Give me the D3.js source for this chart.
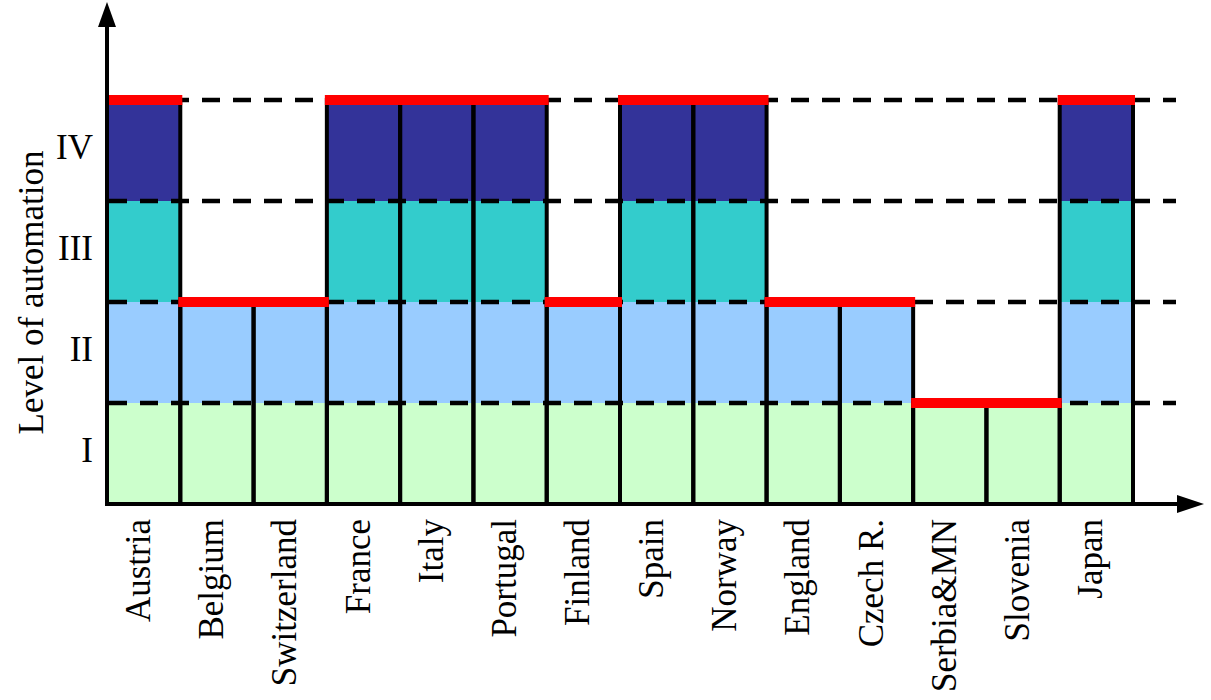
<!DOCTYPE html>
<html>
<head>
<meta charset="utf-8">
<script src="https://cdn.jsdelivr.net/npm/d3@7"></script>
<style>
  html, body { margin: 0; padding: 0; background: #fff; }
  svg { display: block; }
  text { font-family: "Liberation Serif", "Times New Roman", serif; fill: #000; }
</style>
</head>
<body>
<svg id="chart" width="1211" height="700"></svg>
<script>
// ---- data ----
const countries = ["Austria", "Belgium", "Switzerland", "France", "Italy", "Portugal", "Finland",
                   "Spain", "Norway", "England", "Czech R.", "Serbia&MN", "Slovenia", "Japan"];
const levels = [4, 2, 2, 4, 4, 4, 2, 4, 4, 2, 2, 1, 1, 4];
const levelLabels = ["I", "II", "III", "IV"];
const levelColors = ["#ccffcc", "#99ccff", "#33cccc", "#333399"];
const yTitle = "Level of automation";

// ---- layout ----
const svg = d3.select("#chart");
const x = d3.scaleBand().domain(countries).range([107, 1133]).padding(0);
const y = d3.scaleLinear().domain([0, 4]).range([504, 100]);

const data = countries.map((c, i) => ({ country: c, level: levels[i] }));

// colored segments
const segs = [];
data.forEach(d => {
  for (let l = 0; l < d.level; l++) segs.push({ country: d.country, l });
});
svg.append("g").selectAll("rect").data(segs).join("rect")
  .attr("x", d => x(d.country))
  .attr("width", x.bandwidth())
  .attr("y", d => y(d.l + 1))
  .attr("height", d => y(d.l) - y(d.l + 1))
  .attr("fill", d => levelColors[d.l]);

// dashed level lines
svg.append("g").selectAll("line").data([1, 2, 3, 4]).join("line")
  .attr("x1", 109).attr("x2", 1176)
  .attr("y1", d => y(d)).attr("y2", d => y(d))
  .attr("stroke", "#000").attr("stroke-width", 4.5)
  .attr("stroke-dasharray", "18,13");

// bar outlines (vertical edges)
svg.append("g").selectAll("rect").data(data).join("rect")
  .attr("x", d => x(d.country))
  .attr("width", x.bandwidth())
  .attr("y", d => y(d.level))
  .attr("height", d => y(0) - y(d.level))
  .attr("fill", "none")
  .attr("stroke", "#000").attr("stroke-width", 4);

// red level markers
svg.append("g").selectAll("line").data(data).join("line")
  .attr("x1", d => x(d.country) - 2)
  .attr("x2", d => x(d.country) + x.bandwidth() + 2)
  .attr("y1", d => y(d.level)).attr("y2", d => y(d.level))
  .attr("stroke", "#ff0000").attr("stroke-width", 10);

// axes
svg.append("line").attr("x1", 107).attr("x2", 107).attr("y1", y(0) + 2).attr("y2", 24)
  .attr("stroke", "#000").attr("stroke-width", 4);
svg.append("path").attr("d", "M107,2 L98,27 L116,27 Z").attr("fill", "#000");
svg.append("line").attr("x1", 105).attr("x2", 1180).attr("y1", y(0)).attr("y2", y(0))
  .attr("stroke", "#000").attr("stroke-width", 4);
svg.append("path").attr("d", `M1204,${y(0)} L1177,${y(0) - 9} L1177,${y(0) + 9} Z`).attr("fill", "#000");

// y level labels
svg.append("g").selectAll("text").data(levelLabels).join("text")
  .attr("x", 93)
  .attr("y", (d, i) => (y(i) + y(i + 1)) / 2 + 8)
  .attr("text-anchor", "end")
  .attr("font-size", 35)
  .text(d => d);

// y title
svg.append("text")
  .attr("transform", `translate(43,${(148 + 437) / 2}) rotate(-90)`)
  .attr("text-anchor", "middle")
  .attr("font-size", 35)
  .text(yTitle);

// x labels
svg.append("g").selectAll("text").data(countries).join("text")
  .attr("transform", d => `translate(${x(d) + x.bandwidth() / 2 + 6},519) rotate(-90)`)
  .attr("text-anchor", "end")
  .attr("font-size", 35)
  .text(d => d);
</script>
</body>
</html>
